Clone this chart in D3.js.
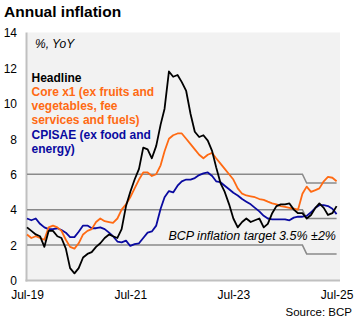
<!DOCTYPE html>
<html>
<head>
<meta charset="utf-8">
<script src="https://cdn.jsdelivr.net/npm/d3@7"></script>
<style>
  html, body { margin: 0; padding: 0; background: #fff; }
  svg { display: block; font-family: "Liberation Sans", Arial, sans-serif; }
</style>
</head>
<body>
<svg id="chart" width="360" height="326" viewBox="0 0 360 326"></svg>
<script>
// monthly data, Jul-19 .. Jul-25
const startMonth = "2019-07";
const headline = [3.0, 2.8, 2.6, 2.5, 1.9, 2.8, 2.8, 2.5, 2.4, 1.8,
  0.7, 0.4, 0.7, 1.3, 1.5, 1.6, 1.9, 2.1, 2.4, 2.6,
  2.5, 2.4, 2.9, 4.2, 5.0, 5.7, 6.3, 7.5, 7.4, 6.9,
  7.6, 8.8, 9.7, 11.8, 11.5, 11.6, 11.2, 10.7, 9.4, 8.4,
  8.1, 8.2, 7.9, 7.3, 6.4, 5.5, 5.0, 4.3, 3.5, 3.0,
  3.3, 3.5, 3.3, 3.4, 3.5, 3.0, 3.2, 3.8, 4.2, 4.3,
  4.3, 4.35, 4.0, 3.8, 3.8, 3.5, 3.7, 4.1, 4.35, 4.1,
  3.7, 3.8, 4.2];
const coreX1 = [2.6, 2.4, 2.5, 2.4, 2.3, 3.0, 3.1, 3.0, 2.8, 2.3,
  1.9, 1.8, 2.1, 2.6, 2.8, 2.9, 3.3, 3.5, 3.35, 3.3,
  3.25, 3.5, 4.0, 4.3, 4.7, 5.2, 5.7, 6.1, 6.1, 5.9,
  6.0, 6.5, 7.3, 8.0, 8.2, 8.3, 8.3, 8.0, 7.7, 7.4,
  7.1, 6.9, 7.1, 7.2, 6.9, 6.6, 6.3, 6.0, 5.7, 5.2,
  4.9, 4.8, 4.75, 4.7, 4.6, 4.55, 4.45, 4.35, 4.3, 4.2,
  4.15, 4.1, 4.05, 4.0, 4.9, 5.3, 5.0, 5.1, 5.2, 5.6,
  5.85, 5.8, 5.6];
const cpisae = [3.5, 3.4, 3.5, 3.2, 3.0, 2.9, 2.9, 2.95, 2.85, 2.7,
  2.45, 2.45, 2.75, 3.1, 3.1, 2.95, 2.95, 3.0, 2.9, 2.7,
  2.5, 2.2, 2.15, 2.25, 1.95, 2.05, 2.1, 2.4, 2.7, 2.77,
  3.1, 4.05, 4.7, 5.05, 4.97, 5.35, 5.6, 5.7, 5.7, 5.78,
  5.95, 6.05, 6.1, 5.9, 5.6, 5.55, 5.35, 5.15, 4.95, 4.8,
  4.6, 4.45, 4.3, 4.1, 3.9, 3.65, 3.5, 3.45, 3.45, 3.45,
  3.45, 3.4, 3.55, 3.6, 3.6, 3.65, 3.85, 4.1, 4.25, 4.25,
  4.2, 4.05, 3.75];

// inflation target (centre) and tolerance band
const targetMonths = ["2019-07", "2024-11", "2024-12", "2025-07"];
const targetValues = [4, 4, 3.5, 3.5];
const targetBand = 2;

const yTicks = [0, 2, 4, 6, 8, 10, 12, 14];
const xTickMonths = ["2019-07", "2021-07", "2023-07", "2025-07"];

const legendItems = [
  { lines: ["Headline"], color: "#000000" },
  { lines: ["Core x1 (ex fruits and", "vegetables, fee", "services and fuels)"], color: "#ff6a13" },
  { lines: ["CPISAE (ex food and", "energy)"], color: "#0a0aa0" }
];

const parseMonth = d3.timeParse("%Y-%m");
const fmtMonth = d3.timeFormat("%b-%y");
const t0 = parseMonth(startMonth);
const months = headline.map((_, i) => d3.timeMonth.offset(t0, i));

const svg = d3.select("#chart");
const plot = { left: 27, right: 340, top: 32.5, bottom: 280.5 };

const x = d3.scaleTime()
  .domain([t0, d3.timeMonth.offset(t0, headline.length - 1)])
  .range([27, 336.6]);
const y = d3.scaleLinear().domain([0, 14]).range([plot.bottom, plot.top]);

// title
svg.append("text")
  .attr("x", 4).attr("y", 17)
  .attr("font-size", "15.5px").attr("font-weight", "bold")
  .attr("fill", "#000")
  .text("Annual inflation");

// plot background
svg.append("rect")
  .attr("x", plot.left).attr("y", plot.top)
  .attr("width", plot.right - plot.left).attr("height", plot.bottom - plot.top)
  .attr("fill", "#f2f2f2");

// y axis labels
svg.append("g")
  .attr("transform", `translate(${plot.left - 10},0)`)
  .call(d3.axisLeft(y).tickValues(yTicks).tickSize(0).tickPadding(0).tickFormat(d3.format("d")))
  .call(g => g.select(".domain").remove())
  .call(g => g.selectAll("text")
    .attr("font-family", "Liberation Sans, Arial, sans-serif")
    .attr("font-size", "12px").attr("fill", "#000").attr("dy", "0.36em"));

// x axis labels
svg.append("g")
  .attr("transform", `translate(0,${plot.bottom})`)
  .call(d3.axisBottom(x).tickValues(xTickMonths.map(parseMonth)).tickSize(0).tickPadding(10).tickFormat(fmtMonth))
  .call(g => g.select(".domain").remove())
  .call(g => g.selectAll("text")
    .attr("font-family", "Liberation Sans, Arial, sans-serif")
    .attr("font-size", "12px").attr("fill", "#000"));

// axis lines
svg.append("line")
  .attr("x1", plot.left - 0.5).attr("x2", plot.left - 0.5)
  .attr("y1", plot.top).attr("y2", plot.bottom + 1)
  .attr("stroke", "#c0c0c0").attr("stroke-width", 2);
svg.append("line")
  .attr("x1", plot.left - 1.5).attr("x2", plot.right)
  .attr("y1", plot.bottom).attr("y2", plot.bottom)
  .attr("stroke", "#c0c0c0").attr("stroke-width", 2);

// target band lines
const targetData = targetMonths.map((m, i) => ({ date: parseMonth(m), v: targetValues[i] }));
[targetBand, 0, -targetBand].forEach(off => {
  svg.append("path")
    .datum(targetData)
    .attr("fill", "none")
    .attr("stroke", "#8a8a8a")
    .attr("stroke-width", 1.5)
    .attr("d", d3.line().x(d => x(d.date)).y(d => y(d.v + off)));
});

// series
const line = d3.line().x((d, i) => x(months[i])).y(d => y(d));
[[cpisae, "#0a0aa0"], [coreX1, "#ff6a13"], [headline, "#000000"]].forEach(([vals, col]) => {
  svg.append("path")
    .datum(vals)
    .attr("fill", "none")
    .attr("stroke", col)
    .attr("stroke-width", 1.8)
    .attr("stroke-linejoin", "round")
    .attr("d", line);
});

// unit label
svg.append("text")
  .attr("x", 35).attr("y", 48)
  .attr("font-size", "12px").attr("font-style", "italic")
  .text("%, YoY");

// legend
let ly = 81.5;
legendItems.forEach(item => {
  item.lines.forEach(t => {
    svg.append("text")
      .attr("x", 31.5).attr("y", ly)
      .attr("font-size", "12px").attr("font-weight", "bold")
      .attr("fill", item.color)
      .text(t);
    ly += 14.3;
  });
});

// target annotation
svg.append("text")
  .attr("x", 336).attr("y", 240)
  .attr("text-anchor", "end")
  .attr("font-size", "12.5px").attr("font-style", "italic")
  .attr("fill", "#000")
  .text("BCP inflation target 3.5% \u00b12%");

// source
svg.append("text")
  .attr("x", 352).attr("y", 316)
  .attr("text-anchor", "end")
  .attr("font-size", "11.5px")
  .attr("fill", "#000")
  .text("Source: BCP");
</script>
</body>
</html>
